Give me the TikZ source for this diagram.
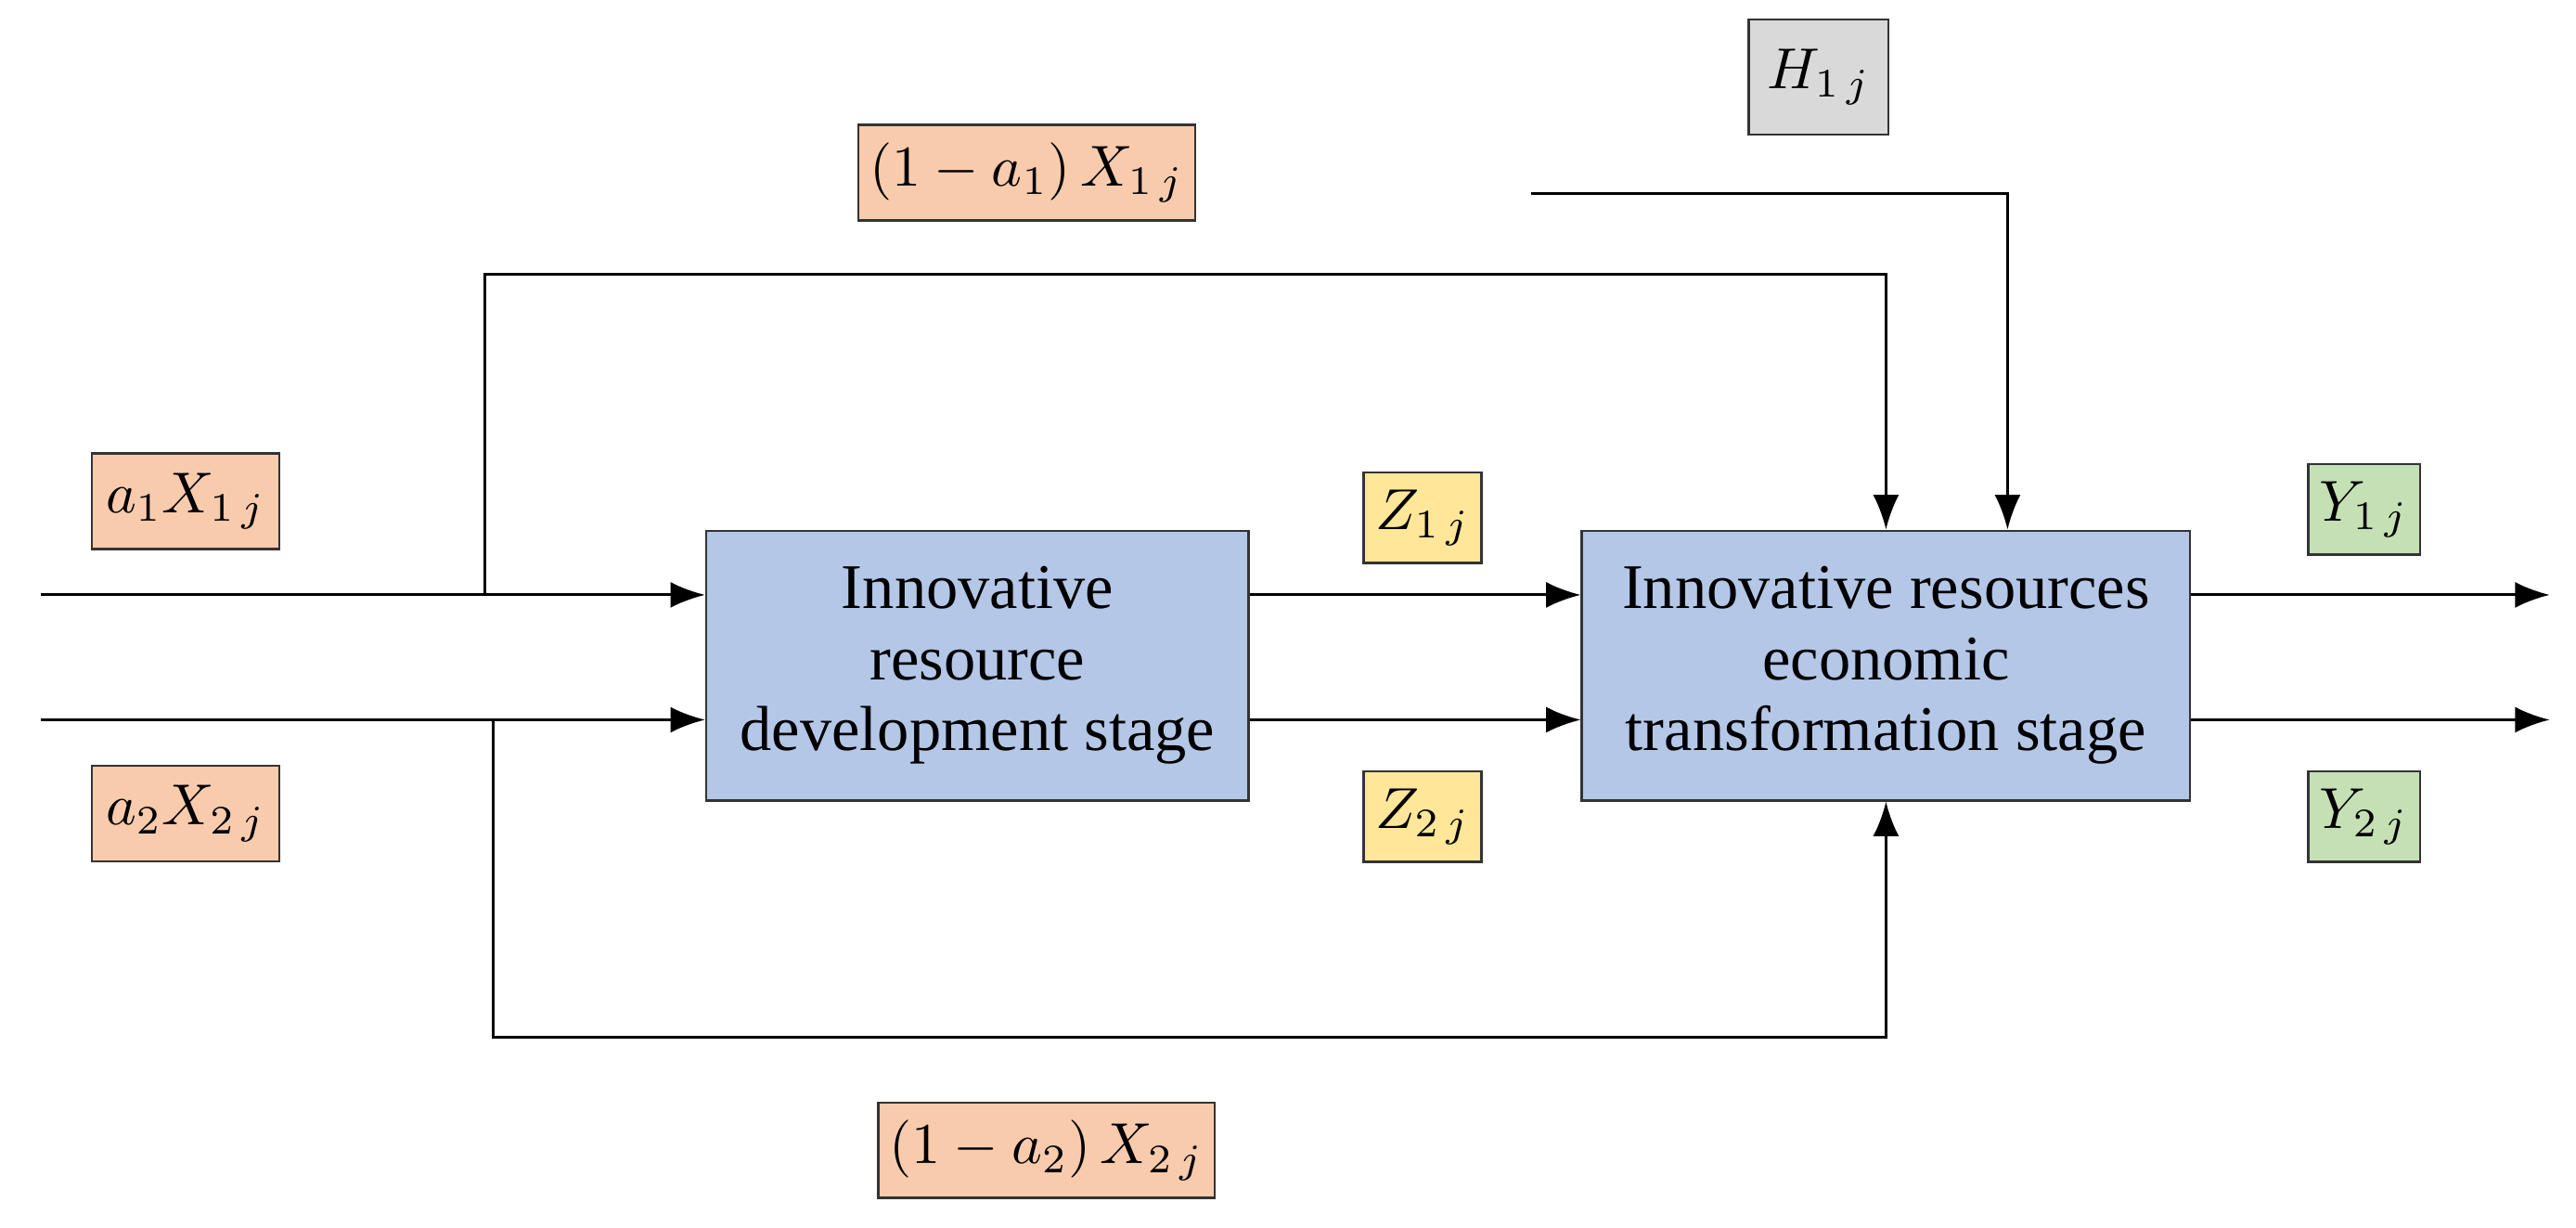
\documentclass[tikz,border=0pt]{standalone}
\usepackage{fontspec}
\setmainfont{Liberation Serif}
\usetikzlibrary{arrows.meta}
\definecolor{orng}{HTML}{F8CBAD}
\definecolor{blu}{HTML}{B4C7E7}
\definecolor{yel}{HTML}{FFE699}
\definecolor{grn}{HTML}{C5E0B4}
\definecolor{gry}{HTML}{D9D9D9}
\begin{document}
\begin{tikzpicture}[x=0.01cm,y=-0.01cm,
  stage/.style={draw=black!80,fill=blu,minimum width=3.3cm,minimum height=1.64cm,align=center,font=\fontsize{11}{12.3}\selectfont,inner sep=1pt},
  lab/.style={draw=black!80,minimum height=0.58cm,inner sep=2pt,font=\fontsize{10}{12}\selectfont},
  ln/.style={line width=0.5pt},
  ar/.style={ln,-{Latex[length=6pt,width=4.5pt]}}]
\useasboundingbox (0,0) rectangle (1568,747);
\node[stage] (b1) at (595,405) {Innovative\\resource\\development stage};
\node[stage,minimum width=3.7cm] (b2) at (1148,405) {Innovative resources\\economic\\transformation stage};
\node[lab,fill=orng,minimum width=1.14cm] (la1) at (113,305) {$a_1X_{1\,j}$};
\node[lab,fill=orng,minimum width=1.14cm] (la2) at (113,495) {$a_2X_{2\,j}$};
\node[lab,fill=orng,minimum width=1.75cm] (lb1) at (625,105) {$\left(1-a_1\right)X_{1\,j}$};
\node[lab,fill=orng,minimum width=1.75cm] (lb2) at (637,700) {$\left(1-a_2\right)X_{2\,j}$};
\node[lab,fill=gry,minimum width=0.85cm,minimum height=0.7cm] (lh) at (1107,47) {$H_{1\,j}$};
\node[lab,fill=yel,minimum width=0.6cm,minimum height=0.55cm] (lz1) at (866,315) {$Z_{1\,j}$};
\node[lab,fill=yel,minimum width=0.6cm,minimum height=0.55cm] (lz2) at (866,497) {$Z_{2\,j}$};
\node[lab,fill=grn,minimum width=0.6cm,minimum height=0.55cm] (ly1) at (1439,310) {$Y_{1\,j}$};
\node[lab,fill=grn,minimum width=0.6cm,minimum height=0.55cm] (ly2) at (1439,497) {$Y_{2\,j}$};
\coordinate (i1) at (25,362); \coordinate (i2) at (25,438);
\coordinate (o1) at (1552,362); \coordinate (o2) at (1552,438);
\coordinate (hs) at (932,118);
\draw[ar] (i1) -- (b1.west |- i1);
\draw[ar] (i2) -- (b1.west |- i2);
\draw[ar] (295,362) -- (295,167) -- (1148,167) -- (b2.north);
\draw[ar] (300,438) -- (300,631) -- (1148,631) -- (b2.south);
\draw[ar] (b1.east |- i1) -- (b2.west |- i1);
\draw[ar] (b1.east |- i2) -- (b2.west |- i2);
\draw[ar] (b2.east |- o1) -- (o1);
\draw[ar] (b2.east |- o2) -- (o2);
\draw[ar] (hs) -- (1222,118) -- (b2.north -| 1222,0);
\end{tikzpicture}
\end{document}
